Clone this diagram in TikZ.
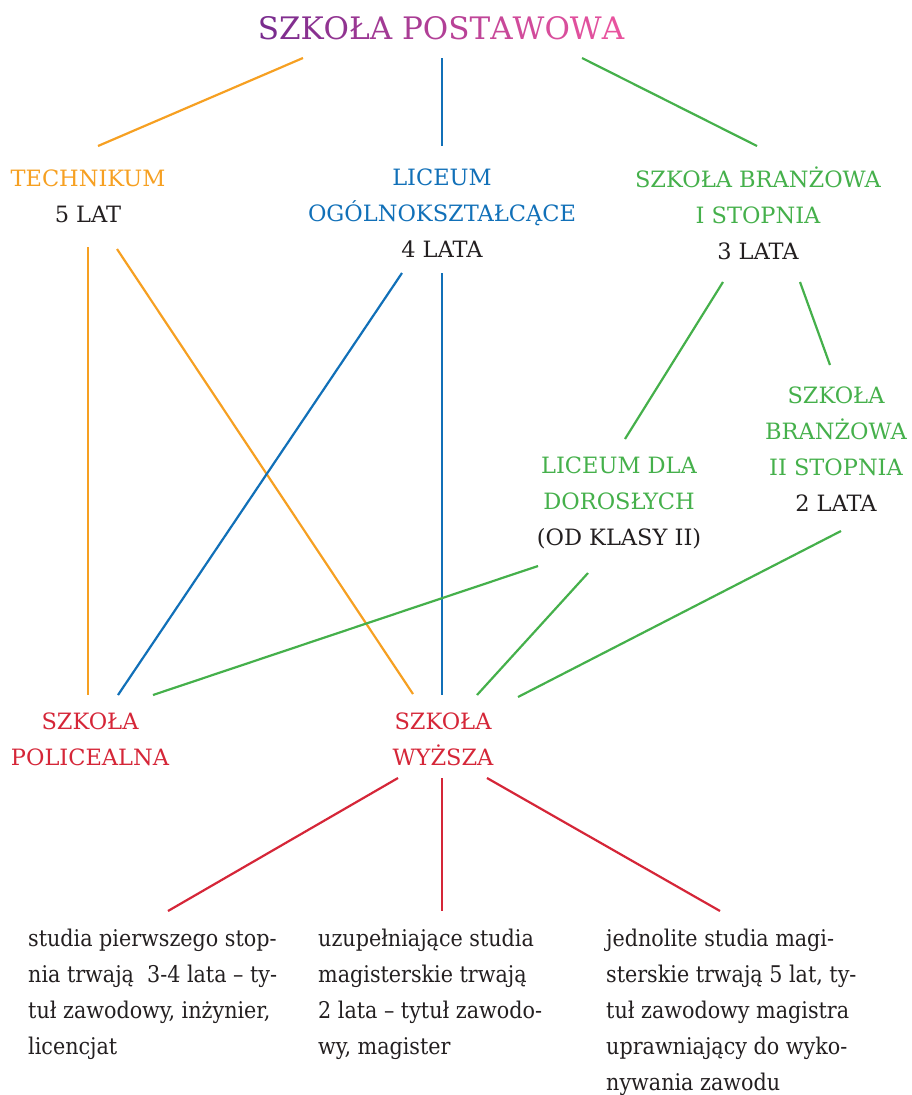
\documentclass[tikz,border=0pt]{standalone}
\usepackage{fontspec}
\setmainfont{DejaVu Serif}
\newfontfamily\condfont{DejaVu Serif Condensed}
\usetikzlibrary{positioning, calc}
\definecolor{tpurple}{HTML}{7A2C8E}
\definecolor{tpink}{HTML}{E8539E}
\definecolor{orng}{HTML}{F6A022}
\definecolor{blu}{HTML}{1170B8}
\definecolor{grn}{HTML}{45B04B}
\definecolor{rd}{HTML}{D52638}
\definecolor{ink}{HTML}{231F20}
\newcommand{\gl}[2]{\textcolor{tpink!#1!tpurple}{#2}}

\begin{document}
\begin{tikzpicture}[x=1pt, y=-1pt,
    head/.style={align=center, inner sep=0pt, font={\fontsize{22.5}{36}\selectfont}},
    desc/.style={align=left, inner sep=0pt, anchor=north west, text=ink, font={\condfont\fontsize{23}{36}\selectfont}},
    link/.style={line width=2.2pt}]
    \useasboundingbox (0,0) rectangle (911,1095);

    % gora
    \node[inner sep=0pt, font={\fontsize{31}{36}\selectfont}] (title) at (441,28)
        {\gl{0}{S}\gl{7}{Z}\gl{14}{K}\gl{21}{O}\gl{29}{Ł}\gl{36}{A} \gl{43}{P}\gl{50}{O}\gl{57}{S}\gl{64}{T}\gl{71}{A}\gl{79}{W}\gl{86}{O}\gl{93}{W}\gl{100}{A}};

    % szkoly srednie
    \node[head] (tech) at (88,196) {\textcolor{orng}{TECHNIKUM}\\\textcolor{ink}{5 LAT}};
    \node[head] (lic) at (442,213) {\textcolor{blu}{LICEUM}\\\textcolor{blu}{OGÓLNOKSZTAŁCĄCE}\\\textcolor{ink}{4 LATA}};
    \node[head] (sb1) at (758,213) {\textcolor{grn}{SZKOŁA BRANŻOWA}\\\textcolor{grn}{I STOPNIA}\\\textcolor{ink}{3 LATA}};
    \node[head] (sb2) at (836,449) {\textcolor{grn}{SZKOŁA}\\\textcolor{grn}{BRANŻOWA}\\\textcolor{grn}{II STOPNIA}\\\textcolor{ink}{2 LATA}};
    \node[head] (lad) at (619,503) {\textcolor{grn}{LICEUM DLA}\\\textcolor{grn}{DOROSŁYCH}\\\textcolor{ink}{(OD KLASY II)}};

    % po szkole sredniej
    \node[head, text=rd] (pol) at (90,739) {SZKOŁA\\POLICEALNA};
    \node[head, text=rd] (wyz) at (443,739) {SZKOŁA\\WYŻSZA};

    % studia
    \node[desc] (col1) at (28,929) {studia pierwszego stop-\\nia trwają\ \ 3-4 lata – ty-\\tuł zawodowy, inżynier,\\licencjat};
    \node[desc] (col2) at (318,929) {uzupełniające studia\\magisterskie trwają\\2 lata – tytuł zawodo-\\wy, magister};
    \node[desc] (col3) at (606,929) {jednolite studia magi-\\sterskie trwają 5 lat, ty-\\tuł zawodowy magistra\\uprawniający do wyko-\\nywania zawodu};

    \draw[link, orng] ($(title)+(-138,30)$) -- ($(tech)+(10,-50)$);
    \draw[link, blu] ($(title)+(1,30)$) -- ($(lic)+(0,-67)$);
    \draw[link, grn] ($(title)+(141,30)$) -- ($(sb1)+(-1,-67)$);

    \draw[link, orng] ($(tech)+(0,51)$) -- ($(pol)+(-2,-44)$);
    \draw[link, orng] ($(tech)+(29,53)$) -- ($(wyz)+(-30,-45)$);
    \draw[link, blu] ($(lic)+(-40,60)$) -- ($(pol)+(28,-44)$);
    \draw[link, blu] ($(lic)+(0,60)$) -- ($(wyz)+(-1,-44)$);
    \draw[link, grn] ($(sb1)+(-35,69)$) -- ($(lad)+(6,-64)$);
    \draw[link, grn] ($(sb1)+(42,69)$) -- ($(sb2)+(-6,-84)$);
    \draw[link, grn] ($(lad)+(-81,63)$) -- ($(pol)+(63,-44)$);
    \draw[link, grn] ($(lad)+(-31,70)$) -- ($(wyz)+(34,-44)$);
    \draw[link, grn] ($(sb2)+(5,82)$) -- ($(wyz)+(75,-42)$);

    \draw[link, rd] ($(wyz)+(-45,39)$) -- ($(col1.north west)+(140,-18)$);
    \draw[link, rd] ($(wyz)+(-1,39)$) -- ($(col2.north west)+(124,-18)$);
    \draw[link, rd] ($(wyz)+(44,39)$) -- ($(col3.north west)+(114,-18)$);
\end{tikzpicture}
\end{document}
